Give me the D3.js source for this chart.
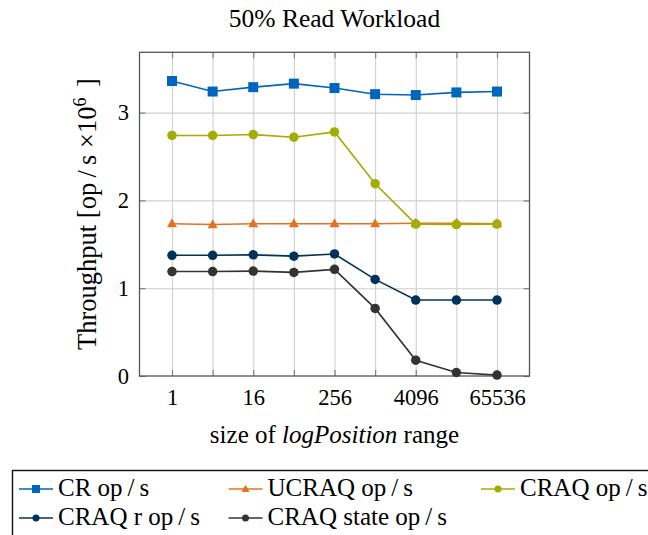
<!DOCTYPE html>
<html>
<head>
<meta charset="utf-8">
<script src="https://cdn.jsdelivr.net/npm/d3@7"></script>
<style>
  body { margin: 0; background: #fff; }
  svg { display: block; }
  text { font-family: "Liberation Serif", "Times New Roman", serif; fill: #000; }
</style>
</head>
<body>
<svg id="chart" width="648" height="535"></svg>
<script>
// logPosition range sizes (x) and throughput in millions of op/s (y)
const positions = [1, 4, 16, 64, 256, 1024, 4096, 16384, 65536];
const xTickLabels = [1, 16, 256, 4096, 65536];
const yTicks = [0, 1, 2, 3];

const crOps        = [3.36, 3.24, 3.29, 3.33, 3.28, 3.21, 3.20, 3.23, 3.24];
const ucraqOps     = [1.735, 1.725, 1.735, 1.735, 1.735, 1.735, 1.74, 1.74, 1.735];
const craqOps      = [2.74, 2.74, 2.75, 2.72, 2.78, 2.19, 1.73, 1.725, 1.73];
const craqReadOps  = [1.375, 1.375, 1.38, 1.365, 1.39, 1.10, 0.865, 0.865, 0.865];
const craqStateOps = [1.19, 1.19, 1.195, 1.18, 1.215, 0.77, 0.18, 0.04, 0.01];

const seriesNames  = ["CR op/s", "UCRAQ op/s", "CRAQ op/s", "CRAQ r op/s", "CRAQ state op/s"];
const seriesColors = ["#0065BD", "#E37222", "#A2AD00", "#003359", "#333333"];
const seriesMarks  = ["square", "triangle", "circle", "circle", "circle"];
const seriesValues = [crOps, ucraqOps, craqOps, craqReadOps, craqStateOps];

const svg = d3.select("#chart");

const plot = { left: 139.5, right: 529.5, top: 52.3, bottom: 376 };

const x = d3.scaleLog().base(2)
  .domain([Math.pow(2, -1.6), Math.pow(2, 17.6)])
  .range([plot.left, plot.right]);
const y = d3.scaleLinear()
  .domain([0, 3.687])
  .range([plot.bottom, plot.top]);

// grid
const grid = svg.append("g").attr("class", "grid");
grid.append("g")
  .attr("transform", `translate(0,${plot.bottom})`)
  .call(d3.axisBottom(x).tickValues(positions).tickFormat("")
        .tickSizeInner(-(plot.bottom - plot.top)).tickSizeOuter(0));
grid.append("g")
  .attr("transform", `translate(${plot.left},0)`)
  .call(d3.axisLeft(y).tickValues(yTicks.filter(d => d > 0)).tickFormat("")
        .tickSizeInner(-(plot.right - plot.left)).tickSizeOuter(0));
grid.selectAll(".domain").remove();
grid.selectAll(".tick line").attr("stroke", "#cfcfcf").attr("stroke-width", 1.1);

// tick marks on all four sides, pointing inward, and tick labels
const tickStyle = g => {
  g.attr("font-family", null);
  g.select(".domain").remove();
  g.selectAll(".tick line").attr("stroke", "#808080").attr("stroke-width", 1.2);
  g.selectAll(".tick text").style("font-family", "'Liberation Serif', serif")
    .style("font-size", "22.5px").attr("fill", "#000");
};
svg.append("g")
  .attr("transform", `translate(0,${plot.bottom})`)
  .call(d3.axisBottom(x).tickValues(positions)
        .tickFormat(d => xTickLabels.includes(d) ? String(d) : "")
        .tickSizeInner(-6).tickSizeOuter(0).tickPadding(13))
  .call(tickStyle);
svg.append("g")
  .attr("transform", `translate(0,${plot.top})`)
  .call(d3.axisTop(x).tickValues(positions).tickFormat("")
        .tickSizeInner(-6).tickSizeOuter(0))
  .call(tickStyle);
svg.append("g")
  .attr("transform", `translate(${plot.left},0)`)
  .call(d3.axisLeft(y).tickValues(yTicks).tickFormat(d3.format("d"))
        .tickSizeInner(-6).tickSizeOuter(0).tickPadding(10.5))
  .call(tickStyle);
svg.append("g")
  .attr("transform", `translate(${plot.right},0)`)
  .call(d3.axisRight(y).tickValues(yTicks).tickFormat("")
        .tickSizeInner(-6).tickSizeOuter(0))
  .call(tickStyle);

// frame
svg.append("rect")
  .attr("x", plot.left).attr("y", plot.top)
  .attr("width", plot.right - plot.left).attr("height", plot.bottom - plot.top)
  .attr("fill", "none").attr("stroke", "#555").attr("stroke-width", 1.3);

// marker shapes
function drawMarker(g, kind, cx, cy, size, color) {
  if (kind === "square") {
    g.append("rect").attr("x", cx - size / 2).attr("y", cy - size / 2)
      .attr("width", size).attr("height", size).attr("fill", color);
  } else if (kind === "triangle") {
    const h = size * 0.9;
    g.append("path")
      .attr("d", `M${cx},${cy - h * 0.6}L${cx + size / 2},${cy + h * 0.4}L${cx - size / 2},${cy + h * 0.4}Z`)
      .attr("fill", color);
  } else {
    g.append("circle").attr("cx", cx).attr("cy", cy).attr("r", size / 2).attr("fill", color);
  }
}

// series
const line = d3.line().x(d => x(d[0])).y(d => y(d[1]));
seriesValues.forEach((vals, i) => {
  const pts = positions.map((p, j) => [p, vals[j]]);
  const g = svg.append("g");
  g.append("path").attr("d", line(pts)).attr("fill", "none")
    .attr("stroke", seriesColors[i]).attr("stroke-width", 1.6);
  const size = seriesMarks[i] === "circle" ? 9.5 : 10;
  pts.forEach(p => drawMarker(g, seriesMarks[i], x(p[0]), y(p[1]), size, seriesColors[i]));
});

// title and axis labels
const cx = (plot.left + plot.right) / 2;
svg.append("text").attr("x", cx).attr("y", 27.3).attr("text-anchor", "middle")
  .style("font-size", "25.5px").text("50% Read Workload");

const xl = svg.append("text").attr("x", cx).attr("y", 443).attr("text-anchor", "middle")
  .style("font-size", "25px");
xl.append("tspan").text("size of ");
xl.append("tspan").style("font-style", "italic").text("logPosition");
xl.append("tspan").text(" range");

const yl = svg.append("text")
  .attr("transform", `translate(96,214) rotate(-90)`)
  .attr("text-anchor", "middle").style("font-size", "26.5px");
yl.append("tspan").text("Throughput [op\u2009/\u2009s \u00d710");
yl.append("tspan").attr("dy", -10).style("font-size", "18px").text("6");
yl.append("tspan").attr("dy", 10).text("\u2009\u2009]");

// legend
const legend = svg.append("g");
legend.append("rect").attr("x", 12.5).attr("y", 470.5).attr("width", 700).attr("height", 120)
  .attr("fill", "#fff").attr("stroke", "#111").attr("stroke-width", 1.4);
const legendCols = [19, 228.5, 481];
const legendRows = [489, 518];
seriesNames.forEach((name, i) => {
  const lx = legendCols[i % 3], ly = legendRows[Math.floor(i / 3)];
  const g = legend.append("g");
  g.append("line").attr("x1", lx).attr("x2", lx + 34).attr("y1", ly).attr("y2", ly)
    .attr("stroke", seriesColors[i]).attr("stroke-width", 1.6);
  drawMarker(g, seriesMarks[i], lx + 17, ly, seriesMarks[i] === "circle" ? 7 : 8, seriesColors[i]);
  g.append("text").attr("x", lx + 39).attr("y", ly + 7).style("font-size", "25px")
    .text(name.replace("/", "\u2009/\u2009"));
});
</script>
</body>
</html>
